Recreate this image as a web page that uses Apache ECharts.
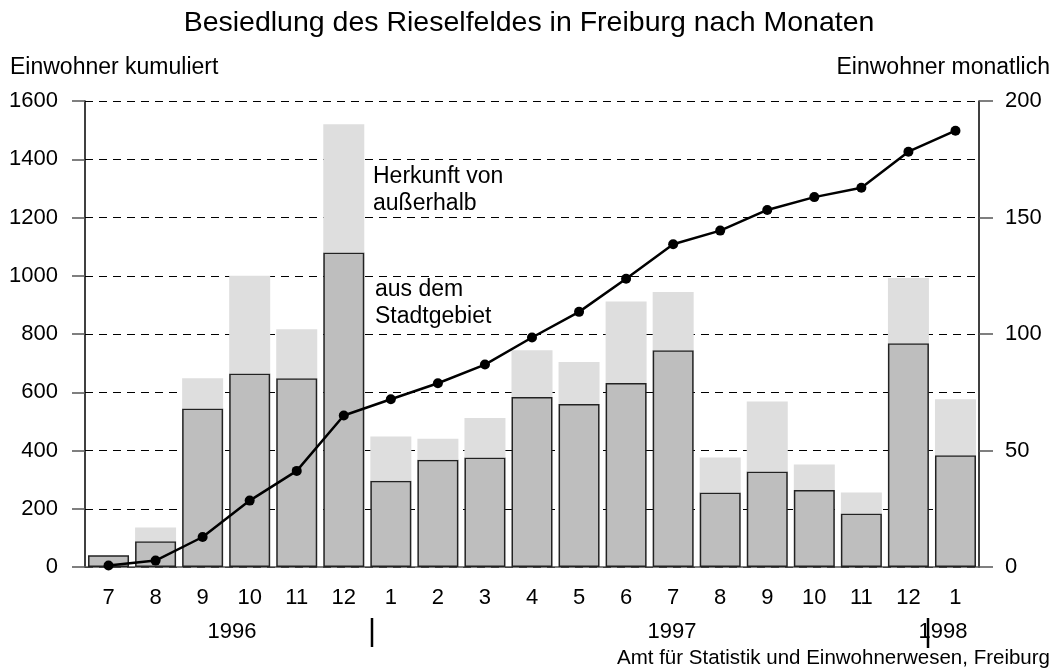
<!DOCTYPE html>
<html>
<head>
<meta charset="utf-8">
<script src="https://cdn.jsdelivr.net/npm/echarts@6/dist/echarts.min.js"></script>
<style>
  html, body { margin: 0; padding: 0; background: #fff; }
  #chart { width: 1058px; height: 670px; }
</style>
</head>
<body>
<div id="chart"></div>
<script>
// months Jul 1996 .. Jan 1998
const months = ['7', '8', '9', '10', '11', '12', '1', '2', '3', '4', '5', '6', '7', '8', '9', '10', '11', '12', '1'];
// monthly, from within the city (dark part)
const ausStadtgebiet = [5, 11, 68, 83, 81, 135, 37, 46, 47, 73, 70, 79, 93, 32, 41, 33, 23, 96, 48];
// monthly, from outside (light part on top)
const vonAusserhalb = [0, 6, 13, 42, 21, 55, 19, 9, 17, 20, 18, 35, 25, 15, 30, 11, 9, 28, 24];
// cumulative residents (left axis)
const kumuliert = [5, 22, 103, 228, 330, 520, 576, 631, 695, 788, 876, 990, 1108, 1155, 1226, 1270, 1302, 1426, 1498];

const FONT = 'Liberation Sans, Arial, sans-serif';

const chart = echarts.init(document.getElementById('chart'));

chart.setOption({
  backgroundColor: '#fff',
  animation: false,
  textStyle: {fontFamily: FONT, color: '#000'},
  title: {
    text: 'Besiedlung des Rieselfeldes in Freiburg nach Monaten',
    left: 'center',
    top: 4,
    textStyle: {fontFamily: FONT, fontSize: 28.5, fontWeight: 'normal', color: '#000'}
  },
  grid: {left: 85, right: 79, top: 101, bottom: 103},
  xAxis: {
    type: 'category',
    data: months,
    boundaryGap: true,
    axisLine: {show: true, lineStyle: {color: '#555', width: 1.5}},
    axisTick: {alignWithLabel: true, length: 13, lineStyle: {color: '#555', width: 1.5}},
    axisLabel: {fontSize: 22, color: '#000', margin: 20, fontFamily: FONT}
  },
  yAxis: [
    {
      type: 'value',
      min: 0,
      max: 1600,
      interval: 200,
      name: 'Einwohner kumuliert',
      nameLocation: 'end',
      nameGap: 22,
      nameTextStyle: {fontSize: 23, color: '#000', align: 'left', padding: [0, 0, 0, -75], fontFamily: FONT},
      axisLine: {show: true, lineStyle: {color: '#000', width: 1.5}},
      axisTick: {show: true, inside: false, length: 13, lineStyle: {color: '#555', width: 1.5}},
      axisLabel: {fontSize: 22, color: '#000', margin: 27, fontFamily: FONT, formatter: (v) => String(v)},
      splitLine: {show: true, lineStyle: {color: '#000', type: [8, 6], width: 1.2}}
    },
    {
      type: 'value',
      min: 0,
      max: 200,
      interval: 50,
      name: 'Einwohner monatlich',
      nameLocation: 'end',
      nameGap: 22,
      nameTextStyle: {fontSize: 23, color: '#000', align: 'right', padding: [0, -71, 0, 0], fontFamily: FONT},
      axisLine: {show: true, lineStyle: {color: '#000', width: 1.5}},
      axisTick: {show: true, inside: false, length: 14, lineStyle: {color: '#555', width: 1.5}},
      axisLabel: {fontSize: 22, color: '#000', margin: 26, fontFamily: FONT},
      splitLine: {show: false}
    }
  ],
  series: [
    {
      name: 'aus dem Stadtgebiet',
      type: 'bar',
      yAxisIndex: 1,
      stack: 'monat',
      barWidth: 41,
      data: ausStadtgebiet,
      itemStyle: {color: '#bebebe', borderColor: '#222', borderWidth: 1.5}
    },
    {
      name: 'Herkunft von außerhalb',
      type: 'bar',
      yAxisIndex: 1,
      stack: 'monat',
      barWidth: 41,
      data: vonAusserhalb,
      itemStyle: {color: '#dedede'}
    },
    {
      name: 'kumuliert',
      type: 'line',
      yAxisIndex: 0,
      data: kumuliert,
      symbol: 'circle',
      symbolSize: 10,
      lineStyle: {color: '#000', width: 2.5},
      itemStyle: {color: '#000'},
      z: 5
    }
  ],
  graphic: [
    {type: 'text', left: 373, top: 163, style: {text: 'Herkunft von\naußerhalb', font: '23px ' + FONT, fill: '#000', lineHeight: 27}},
    {type: 'text', left: 375, top: 276, style: {text: 'aus dem\nStadtgebiet', font: '23px ' + FONT, fill: '#000', lineHeight: 27}},
    {type: 'text', x: 232, y: 632, style: {text: '1996', font: '22px ' + FONT, fill: '#000', align: 'center', verticalAlign: 'middle'}},
    {type: 'text', x: 672, y: 632, style: {text: '1997', font: '22px ' + FONT, fill: '#000', align: 'center', verticalAlign: 'middle'}},
    {type: 'text', x: 943, y: 632, style: {text: '1998', font: '22px ' + FONT, fill: '#000', align: 'center', verticalAlign: 'middle'}},
    {type: 'line', shape: {x1: 372, y1: 618, x2: 372, y2: 647}, style: {stroke: '#000', lineWidth: 2.5}},
    {type: 'line', shape: {x1: 928, y1: 618, x2: 928, y2: 648}, style: {stroke: '#000', lineWidth: 2.5}},
    {type: 'text', right: 8, top: 648, style: {text: 'Amt für Statistik und Einwohnerwesen, Freiburg', font: '20.5px ' + FONT, fill: '#000'}}
  ]
});
</script>
</body>
</html>
